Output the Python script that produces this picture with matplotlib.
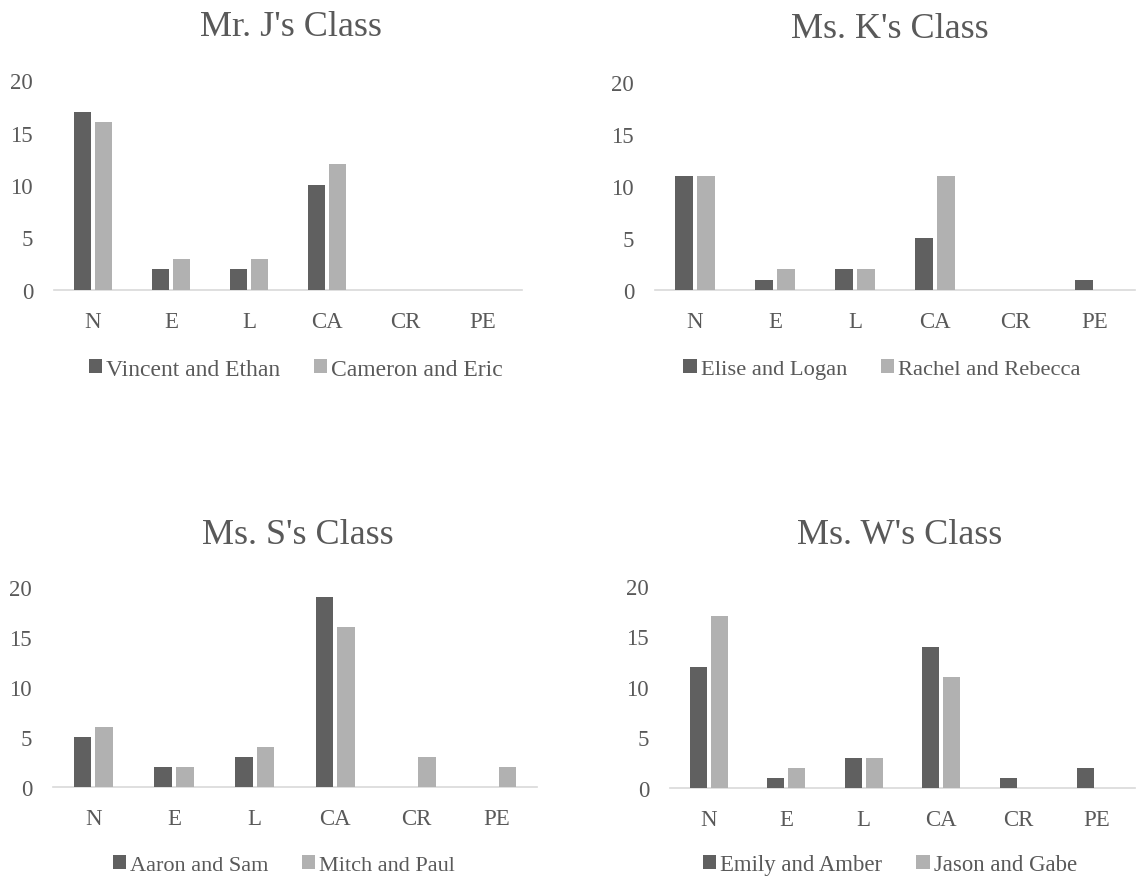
import matplotlib
matplotlib.use("Agg")
import matplotlib.pyplot as plt
from matplotlib.patches import Patch
import numpy as np

plt.rcParams['font.family'] = ['Liberation Serif', 'DejaVu Serif']

categories = ["N", "E", "L", "CA", "CR", "PE"]

titles = ["Mr. J's Class", "Ms. K's Class", "Ms. S's Class", "Ms. W's Class"]

series_names = [
    ["Vincent and Ethan", "Cameron and Eric"],
    ["Elise and Logan", "Rachel and Rebecca"],
    ["Aaron and Sam", "Mitch and Paul"],
    ["Emily and Amber", "Jason and Gabe"],
]

mr_j_vincent_ethan = [17, 2, 2, 10, 0, 0]
mr_j_cameron_eric = [16, 3, 3, 12, 0, 0]
ms_k_elise_logan = [11, 1, 2, 5, 0, 1]
ms_k_rachel_rebecca = [11, 2, 2, 11, 0, 0]
ms_s_aaron_sam = [5, 2, 3, 19, 0, 0]
ms_s_mitch_paul = [6, 2, 4, 16, 3, 2]
ms_w_emily_amber = [12, 1, 3, 14, 1, 2]
ms_w_jason_gabe = [17, 2, 3, 11, 0, 0]

yticks = [0, 5, 10, 15, 20]

data = [
    (mr_j_vincent_ethan, mr_j_cameron_eric),
    (ms_k_elise_logan, ms_k_rachel_rebecca),
    (ms_s_aaron_sam, ms_s_mitch_paul),
    (ms_w_emily_amber, ms_w_jason_gabe),
]

W, H = 1148, 878
fig = plt.figure(figsize=(W / 100, H / 100), dpi=100)

dark = "#606060"
light = "#b1b1b1"
txt = "#595959"
axis_col = "#d9d9d9"

# pixel boxes: (left, right, top(y=20), bottom(y=0))
boxes = [
    (54, 522, 81, 291),
    (655, 1135, 83, 291),
    (53, 537, 588, 788),
    (670, 1135, 587, 789),
]
title_pos = [(291, 28), (890, 30), (298, 535), (900, 535)]
legend_pos = [(296, 370), (882, 370), (284, 866), (890, 866)]
legend_size = [17, 16.2, 16, 16.4]

for i in range(4):
    l, r, t, b = boxes[i]
    ax = fig.add_axes([l / W, 1 - b / H, (r - l) / W, (b - t) / H])
    x = np.arange(len(categories))
    s1, s2 = data[i]
    bw = 0.22
    off = 0.135
    ax.bar(x - off, s1, width=bw, color=dark, zorder=2)
    ax.bar(x + off, s2, width=bw, color=light, zorder=2)
    ax.set_xlim(-0.5, len(categories) - 0.5)
    ax.set_ylim(0, 20)
    ax.set_yticks(yticks)
    ax.set_xticks(x)
    ax.set_xticklabels(categories)
    for sp in ["top", "right", "left"]:
        ax.spines[sp].set_visible(False)
    ax.spines["bottom"].set_color(axis_col)
    ax.spines["bottom"].set_linewidth(1.2)
    ax.spines["bottom"].set_zorder(1)
    ax.tick_params(axis="both", length=0, labelsize=16.5, colors=txt, pad=15)
    ax.set_facecolor("none")

    tx, ty = title_pos[i]
    fig.text(tx / W, 1 - ty / H, titles[i], ha="center", va="center",
             fontsize=26, color=txt)

    handles = [Patch(facecolor=dark, edgecolor="none", label=series_names[i][0]),
               Patch(facecolor=light, edgecolor="none", label=series_names[i][1])]
    lx, ly = legend_pos[i]
    fs = legend_size[i]
    fig.legend(handles=handles, loc="center", bbox_to_anchor=(lx / W, 1 - ly / H),
               ncol=2, frameon=False, fontsize=fs, labelcolor=txt,
               handlelength=9.4 / fs, handleheight=9.4 / fs, handletextpad=2.9 / fs,
               columnspacing=24.5 / fs, borderpad=0, borderaxespad=0)

fig.savefig("out.png", dpi=100)
